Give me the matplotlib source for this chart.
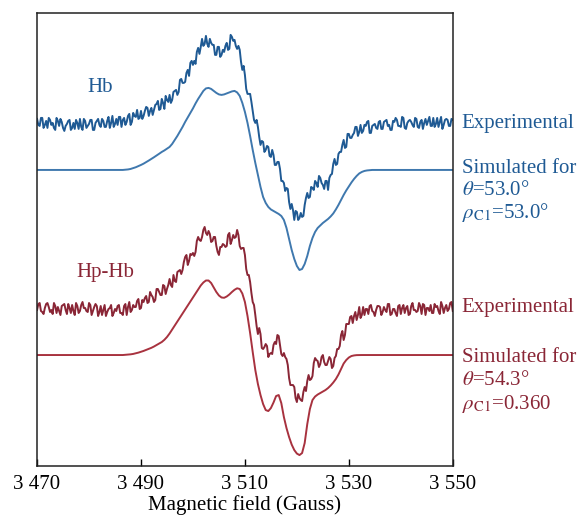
import numpy as np
import matplotlib
matplotlib.use("Agg")
import matplotlib.pyplot as plt

plt.rcParams['font.family'] = ['Liberation Serif', 'DejaVu Serif']
plt.rcParams['mathtext.fontset'] = 'stix'

# Magnetic field grids (Gauss)
field = np.linspace(3470, 3550, 161)          # 0.5 G steps
field_mid = np.linspace(3470.25, 3549.75, 160)  # samples in between

# Hb experimental spectrum (a.u.) on the 0.5 G grid
hb_exp = [381, 374, 382, 375, 372, 380, 377, 370, 379, 381,
          372, 374, 379, 370, 377, 380, 371, 373, 381, 372,
          376, 380, 370, 379, 375, 381, 373, 379, 372, 384,
          376, 375, 383, 380, 375, 384, 375, 387, 383, 381,
          389, 384, 393, 384, 392, 390, 396, 390, 401, 391,
          400, 405, 400, 409, 405, 420, 417, 418, 430, 437,
          435, 436, 452, 453, 454, 464, 453, 457, 455, 445,
          453, 445, 448, 457, 451, 463, 460, 451, 450, 430,
          425, 406, 406, 389, 377, 373, 355, 358, 350, 353,
          343, 345, 335, 338, 319, 317, 312, 298, 296, 280,
          288, 282, 283, 295, 307, 303, 312, 319, 313, 322,
          315, 319, 310, 325, 336, 335, 346, 348, 360, 353,
          366, 362, 367, 373, 368, 367, 375, 378, 367, 374,
          376, 371, 379, 371, 379, 374, 370, 379, 382, 374,
          373, 382, 371, 379, 378, 373, 381, 372, 380, 377,
          375, 383, 374, 373, 382, 378, 371, 380, 380, 374,
          380]
# Hb experimental spectrum (a.u.) at the in-between samples
hb_exp_mid = [375, 382, 372, 379, 382, 375, 372, 382, 374, 378,
              369, 376, 380, 372, 371, 377, 381, 370, 379, 374,
              380, 370, 377, 381, 373, 379, 373, 383, 377, 373,
              381, 383, 373, 382, 378, 386, 378, 384, 390, 382,
              381, 389, 392, 389, 385, 395, 399, 391, 397, 404,
              398, 397, 408, 410, 408, 421, 417, 427, 424, 439,
              439, 448, 446, 461, 456, 456, 461, 455, 445, 453,
              443, 450, 454, 450, 465, 459, 454, 454, 438, 434,
              411, 406, 398, 380, 380, 363, 359, 348, 354, 344,
              350, 335, 338, 331, 319, 309, 311, 291, 290, 289,
              280, 287, 284, 302, 302, 313, 310, 317, 324, 317,
              311, 319, 322, 326, 341, 336, 348, 355, 352, 366,
              362, 365, 373, 364, 375, 369, 374, 379, 367, 375,
              372, 378, 371, 378, 380, 375, 370, 378, 380, 374,
              383, 372, 377, 380, 375, 382, 373, 378, 371, 381,
              379, 374, 382, 376, 373, 383, 375, 381, 374, 381]

# Hb simulated spectrum (a.u.) on the 0.5 G grid
hb_sim = [330] * 33 + [
    330, 330.2, 330.5, 331, 331.8, 332.7, 333.8, 335, 336.3, 337.8,
    339.4, 341, 342.7, 344.4, 346.2, 348, 349.5, 351.2, 353, 356,
    360, 364, 368.5, 373, 378, 382.5, 387, 391.5, 396.5, 401,
    405, 409, 411.5, 412, 411, 409, 407, 405.5, 405, 405.5,
    406.5, 407.5, 408.5, 409, 407.5, 404, 397, 388, 377, 364,
    350, 337, 325, 313, 303, 297, 293, 290.5, 289, 287.5,
    286, 284, 280, 272, 261, 250, 241, 234, 230, 231,
    236, 244, 254, 262, 268, 272, 274.5, 277, 279, 281,
    283.5, 286.5, 290.5, 295, 300, 305, 309.5, 313.5, 317.5, 321,
    324, 326.5, 328, 329, 329.5, 329.8] + [330] * 32

# Hp-Hb experimental spectrum (a.u.) on the 0.5 G grid
hphb_exp = [190, 197, 188, 192, 197, 188, 186, 194, 193, 185,
            195, 190, 196, 187, 189, 197, 187, 195, 192, 189,
            197, 185, 193, 194, 188, 185, 195, 188, 192, 184,
            191, 194, 187, 185, 196, 193, 188, 195, 193, 201,
            192, 198, 204, 198, 205, 198, 211, 208, 205, 214,
            211, 221, 213, 219, 228, 230, 230, 243, 235, 246,
            247, 248, 263, 259, 270, 267, 269, 258, 263, 254,
            245, 253, 255, 254, 267, 260, 262, 270, 254, 252,
            245, 225, 218, 198, 185, 166, 166, 151, 156, 143,
            147, 155, 156, 164, 146, 147, 141, 122, 115, 113,
            98, 102, 99, 113, 119, 120, 124, 142, 139, 136,
            145, 135, 139, 141, 134, 144, 151, 165, 160, 176,
            176, 184, 184, 180, 193, 185, 185, 191, 194, 189,
            184, 194, 193, 188, 190, 196, 185, 191, 187, 194,
            186, 195, 192, 185, 194, 190, 188, 197, 186, 195,
            192, 189, 187, 196, 194, 186, 194, 192, 189, 197,
            189]
# Hp-Hb experimental spectrum (a.u.) at the in-between samples
hphb_exp_mid = [196, 189, 186, 196, 193, 190, 197, 187, 189, 194,
                196, 186, 192, 195, 185, 194, 189, 198, 192, 188,
                195, 189, 196, 184, 194, 190, 184, 191, 195, 187,
                189, 195, 187, 194, 185, 198, 190, 193, 199, 191,
                200, 202, 197, 208, 203, 200, 211, 205, 215, 206,
                215, 215, 225, 218, 229, 226, 238, 245, 239, 245,
                244, 259, 260, 263, 273, 265, 266, 259, 263, 248,
                253, 256, 253, 265, 256, 265, 263, 265, 251, 252,
                231, 225, 207, 195, 174, 172, 152, 153, 154, 146,
                146, 158, 165, 155, 144, 143, 135, 115, 115, 102,
                106, 100, 108, 109, 125, 121, 137, 140, 133, 143,
                138, 135, 143, 132, 142, 151, 154, 169, 165, 176,
                183, 177, 188, 185, 182, 193, 191, 186, 195, 188,
                190, 194, 185, 193, 188, 196, 186, 191, 184, 195,
                192, 187, 194, 186, 197, 190, 189, 194, 196, 185,
                192, 195, 187, 193, 189, 198, 187, 195, 191, 198]

# Hp-Hb simulated spectrum (a.u.) on the 0.5 G grid
hphb_sim = [145] * 33 + [
    145, 145.2, 145.4, 145.7, 146.1, 146.7, 147.4, 148.2, 149.1, 150.1,
    151.1, 152.2, 153.5, 155, 156.5, 158, 160.2, 163, 166.5, 170.5,
    174.5, 178.5, 182.5, 186.5, 190.5, 194.5, 198.5, 202.5, 206.5, 210.5,
    214.5, 217.5, 219.5, 219.5, 217, 212.5, 208, 204.5, 202.5, 202.2,
    203.5, 205.5, 208, 210.2, 211.7, 211, 206.5, 198, 184, 167,
    148, 130, 116, 105, 96, 90, 89, 92, 97.5, 104,
    105, 97, 83, 72, 63, 55.5, 50, 46.5, 45, 47,
    57, 76, 91, 100, 103.5, 105.5, 107, 108.5, 110, 112,
    114.5, 117.5, 121, 125.5, 131, 136.5, 140, 142.5, 144, 144.6,
    144.9, 145] + [145] * 36

x_ticks = [3470, 3490, 3510, 3530, 3550]
x_ticklabels = ["3 470", "3 490", "3 510", "3 530", "3 550"]

blue_exp_c = "#1f5a94"
blue_sim_c = "#3f78ae"
red_exp_c = "#8a2636"
red_sim_c = "#a8323f"


def merged(f1, v1, f2, v2):
    f = np.concatenate([f1, f2])
    v = np.concatenate([np.asarray(v1, float), np.asarray(v2, float)])
    order = np.argsort(f)
    return f[order], v[order]


fig = plt.figure(figsize=(5.79, 5.15), dpi=100)
ax = fig.add_axes([0.064, 0.095, 0.718, 0.880])

fx, fy = merged(field, hb_exp, field_mid, hb_exp_mid)
ax.plot(fx, fy, color=blue_exp_c, lw=1.4)
ax.plot(field, hb_sim, color=blue_sim_c, lw=1.4)
fx, fy = merged(field, hphb_exp, field_mid, hphb_exp_mid)
ax.plot(fx, fy, color=red_exp_c, lw=1.4)
ax.plot(field, hphb_sim, color=red_sim_c, lw=1.4)

ax.set_xlim(3470, 3550)
ax.set_ylim(34, 487)
ax.set_xticks(x_ticks)
ax.set_xticklabels(x_ticklabels)
ax.set_yticks([])
ax.tick_params(axis='x', direction='in', length=5, width=1, labelsize=15, pad=6.5)
for s in ax.spines.values():
    s.set_linewidth(1.1)
    s.set_color('#222222')
ax.set_xlabel("Magnetic field (Gauss)", fontsize=15, labelpad=1)

fs = 15
ax.text(3482.1, 412, "Hb", color=blue_exp_c, fontsize=fs, ha='center', va='center')
ax.text(3483.1, 227, "Hp-Hb", color=red_exp_c, fontsize=fs, ha='center', va='center')

tx = 3551.7
ax.text(tx, 376, "Experimental", color=blue_exp_c, fontsize=fs, va='center', clip_on=False)
ax.text(tx, 331, "Simulated for", color=blue_exp_c, fontsize=fs, va='center', clip_on=False)
ax.text(tx, 309, r"$\theta$=53.0°", color=blue_exp_c, fontsize=fs, va='center', clip_on=False)
ax.text(tx, 287, r"$\rho_{\mathrm{C1}}$=53.0°", color=blue_exp_c, fontsize=fs, va='center', clip_on=False)

ax.text(tx, 193, "Experimental", color=red_exp_c, fontsize=fs, va='center', clip_on=False)
ax.text(tx, 143, "Simulated for", color=red_exp_c, fontsize=fs, va='center', clip_on=False)
ax.text(tx, 120, r"$\theta$=54.3°", color=red_exp_c, fontsize=fs, va='center', clip_on=False)
ax.text(tx, 96, r"$\rho_{\mathrm{C1}}$=0.360", color=red_exp_c, fontsize=fs, va='center', clip_on=False)

fig.savefig("out.png", dpi=100)
